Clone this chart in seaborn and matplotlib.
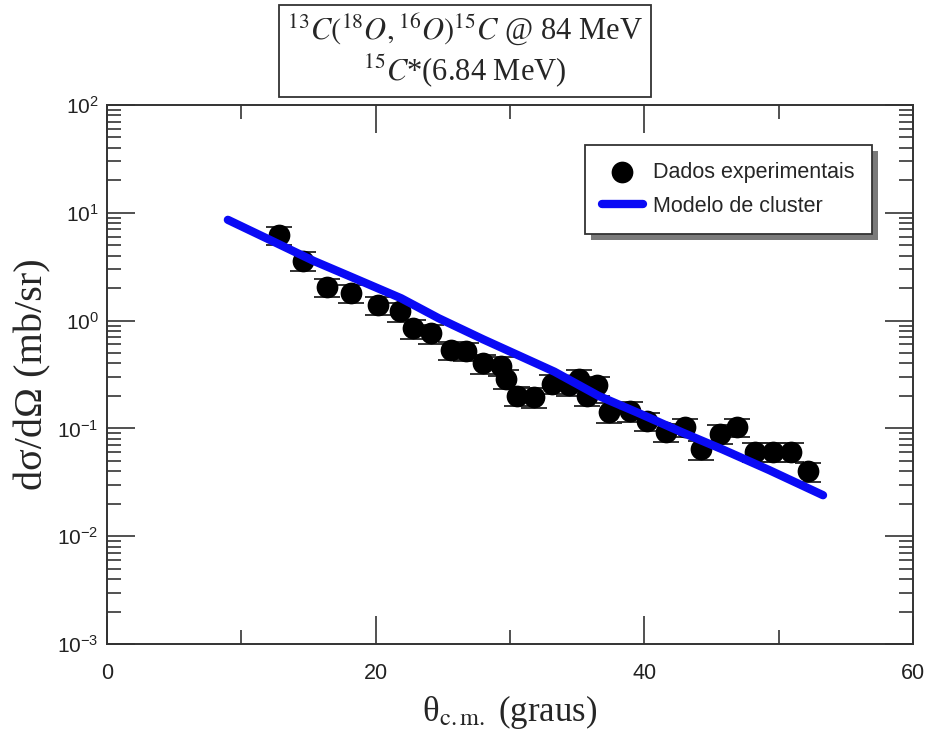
import numpy as np
import pandas as pd
import matplotlib
matplotlib.use("Agg")
import matplotlib.pyplot as plt
import seaborn as sns
from matplotlib.ticker import LogLocator, FixedLocator, NullFormatter
from matplotlib.patches import Rectangle

# ---------------- data ----------------
theta_data = [12.8, 14.6, 16.4, 18.2, 20.2, 21.8, 22.8, 24.1, 25.6, 26.7, 28.0, 29.3,
              29.7, 30.5, 31.8, 33.1, 34.4, 35.1, 35.7, 36.5, 37.4, 38.9, 40.2, 41.6,
              43.0, 44.2, 45.6, 46.9, 48.2, 49.6, 50.9, 52.2]
sigma_data = [6.2, 3.6, 2.05, 1.8, 1.39, 1.22, 0.85, 0.76, 0.53, 0.52, 0.40, 0.38,
              0.29, 0.20, 0.196, 0.26, 0.25, 0.29, 0.20, 0.25, 0.142, 0.145, 0.117, 0.092,
              0.103, 0.064, 0.089, 0.103, 0.061, 0.061, 0.061, 0.040]
sigma_err = [1.2, 0.7, 0.4, 0.35, 0.27, 0.24, 0.17, 0.15, 0.10, 0.10, 0.08, 0.075,
             0.06, 0.04, 0.04, 0.05, 0.05, 0.06, 0.04, 0.05, 0.03, 0.03, 0.023, 0.018,
             0.02, 0.013, 0.018, 0.02, 0.012, 0.012, 0.012, 0.008]

theta_model = [9.0, 12.0, 15.4, 18.0, 21.9, 24.7, 28.0, 33.3, 36.6, 39.5, 42.8, 45.8, 49.3, 53.3]
sigma_model = [8.6, 5.7, 3.57, 2.6, 1.61, 1.05, 0.67, 0.336, 0.20, 0.14, 0.092, 0.064, 0.041, 0.024]

x_major = [0, 20, 40, 60]
x_minor = [10, 30, 50]
label_data = "Dados experimentais"
label_model = "Modelo de cluster"
title_text = "$^{13}C(^{18}O,^{16}O)^{15}C$ @ 84 MeV\n$^{15}C$*(6.84 MeV)"
xlabel_text = r"θ$_{\mathrm{c.m.}}$ (graus)"
ylabel_text = "dσ/dΩ (mb/sr)"

# ---------------- style ----------------
sns.set_style("white")
plt.rcParams.update({
    "font.family": ["Liberation Sans", "DejaVu Sans"],
    "mathtext.fontset": "custom",
    "mathtext.rm": "Liberation Sans",
    "mathtext.it": "Liberation Sans",
    "mathtext.bf": "Liberation Sans:bold",
})

df_data = pd.DataFrame({"theta": theta_data, "sigma": sigma_data, "err": sigma_err})
df_model = pd.DataFrame({"theta": theta_model, "sigma": sigma_model})

fig = plt.figure(figsize=(9.31, 7.34), dpi=100)
ax = fig.add_axes([0.1149, 0.1226, 0.8658, 0.7344])

ax.errorbar(df_data["theta"], df_data["sigma"], yerr=df_data["err"], fmt="none",
            ecolor="#222222", elinewidth=1.0, capsize=9.5, capthick=1.3, zorder=2)
sns.scatterplot(data=df_data, x="theta", y="sigma", ax=ax, s=245, color="black",
                edgecolor="black", linewidth=0, marker="o", label=label_data, zorder=3)
sns.lineplot(data=df_model, x="theta", y="sigma", ax=ax, color="#0a0af5", linewidth=6,
             label=label_model, zorder=4, sort=False, solid_capstyle="round")

ax.set_yscale("log")
ax.set_xlim(0, 60)
ax.set_ylim(1e-3, 1e2)
ax.xaxis.set_major_locator(FixedLocator(x_major))
ax.xaxis.set_minor_locator(FixedLocator(x_minor))
ax.yaxis.set_major_locator(LogLocator(base=10, numticks=10))
ax.yaxis.set_minor_locator(LogLocator(base=10, subs=np.arange(2, 10), numticks=20))
ax.yaxis.set_minor_formatter(NullFormatter())

for s in ax.spines.values():
    s.set_visible(True)
    s.set_color("#333333")
    s.set_linewidth(1.4)

ax.tick_params(which="both", direction="in", top=True, right=True, bottom=True, left=True,
               color="#333333", width=1.2, labelcolor="#222222")
ax.tick_params(which="major", length=20)
ax.tick_params(which="minor", length=10)
ax.tick_params(axis="x", which="both", pad=14, labelsize=15.5)
ax.tick_params(axis="y", which="both", pad=6, labelsize=15)

ax.set_xlabel(xlabel_text, fontsize=25, family="Liberation Serif", math_fontfamily="stix",
              labelpad=6)
ax.set_ylabel(ylabel_text, fontsize=29, family="Liberation Serif", labelpad=4)

leg = ax.legend(loc="upper left", bbox_to_anchor=(0.593, 0.926), borderaxespad=0,
                fontsize=15.5, frameon=True, fancybox=False, framealpha=1,
                edgecolor="#333333", handlelength=1.9, handletextpad=0.5,
                labelspacing=0.62, borderpad=0.78)
leg.get_frame().set_linewidth(1.3)
leg.set_zorder(6)

fig.text(0.4995, 0.931, title_text, ha="center", va="center", fontsize=22,
         family="Liberation Serif", math_fontfamily="stix", linespacing=1.15,
         bbox=dict(boxstyle="square,pad=0.25", fc="white", ec="#333333", lw=1.3))

# legend drop shadow
fig.canvas.draw()
bb = leg.get_window_extent().transformed(ax.transAxes.inverted())
dx = 6 / (ax.get_window_extent().width)
dy = 6 / (ax.get_window_extent().height)
ax.add_patch(Rectangle((bb.x0 + dx, bb.y0 - dy), bb.width, bb.height,
                       transform=ax.transAxes, facecolor="#7a7a7a", edgecolor="none",
                       zorder=5.5, clip_on=False))

fig.savefig("out.png", dpi=100)
